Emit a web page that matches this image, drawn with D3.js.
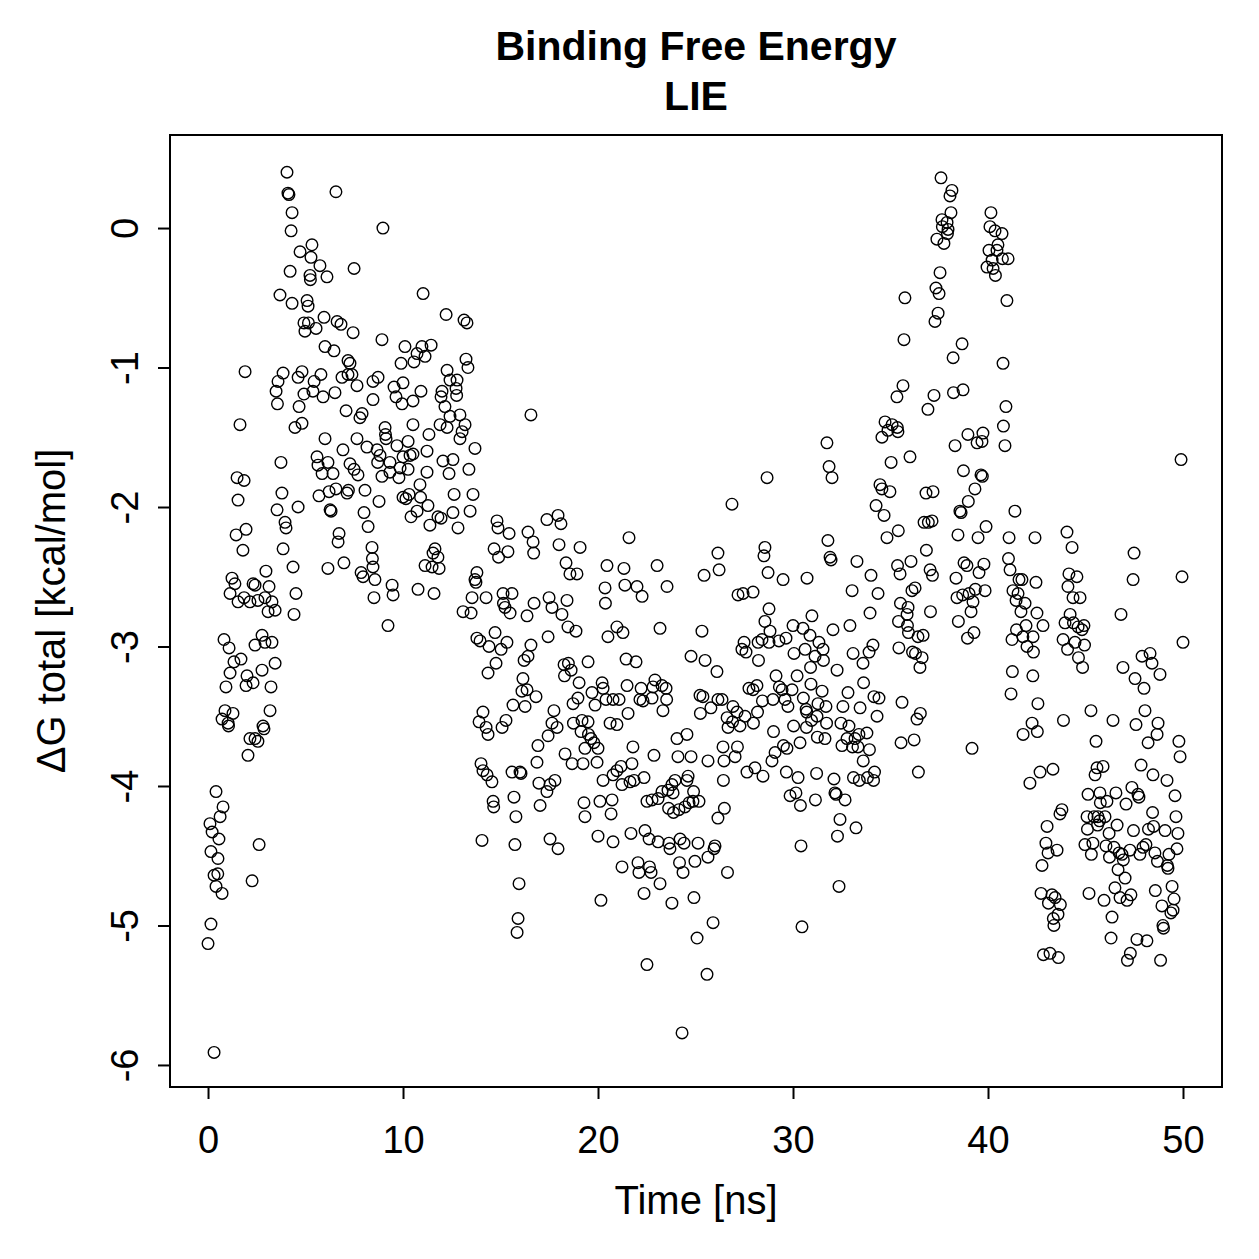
<!DOCTYPE html>
<html><head><meta charset="utf-8">
<script src="https://cdn.jsdelivr.net/npm/d3@7"></script>
<style>body{margin:0;background:#fff}</style></head><body>
<script>
const titleLines = ["Binding Free Energy", "LIE"];
const xLabel = "Time [ns]";
const yLabel = "ΔG total [kcal/mol]";
const xTicks = [0, 10, 20, 30, 40, 50];
const yTicks = [0, -1, -2, -3, -4, -5, -6];

// [time (ns), dG (kcal/mol)]
const ptsA = [
[0.82,-2.95],[1.08,-3.01],[1.33,-3.11],[1.69,-3.09],[1.13,-3.19],[0.92,-3.29],[2.00,-3.21],[2.31,-3.26],[1.95,-3.28],
[2.77,-2.92],[2.41,-2.99],[2.92,-2.97],[3.28,-2.97],[3.44,-3.12],[2.77,-3.17],[3.23,-3.29],[0.87,-3.46],[1.28,-3.48],
[0.72,-3.52],[1.03,-3.55],[1.05,-3.57],[3.18,-3.46],[2.82,-3.57],[2.87,-3.59],[2.15,-3.66],[2.41,-3.66],[2.56,-3.68],
[2.05,-3.78],[0.41,-4.04],[0.77,-4.15],[0.62,-4.22],[0.10,-4.27],[0.21,-4.33],[0.56,-4.38],[0.15,-4.47],[0.51,-4.52],
[2.62,-4.42],[0.31,-4.64],[0.50,-4.63],[0.41,-4.72],[0.72,-4.77],[2.26,-4.68],[0.15,-4.99],[0.00,-5.13],[0.31,-5.91],
[4.05,0.40],[4.10,0.25],[4.15,0.24],[6.56,0.26],[4.31,0.11],[4.26,-0.02],[5.33,-0.12],[4.72,-0.17],[5.28,-0.21],
[5.74,-0.27],[4.21,-0.31],[5.23,-0.34],[5.25,-0.37],[6.10,-0.35],[7.49,-0.29],[3.69,-0.48],[4.31,-0.54],[5.08,-0.52],
[5.13,-0.56],[5.95,-0.64],[4.92,-0.68],[5.15,-0.68],[4.97,-0.74],[5.54,-0.72],[6.62,-0.67],[6.82,-0.69],[7.44,-0.75],
[6.00,-0.85],[6.46,-0.88],[7.18,-0.95],[7.28,-0.97],[1.90,-1.03],[3.85,-1.04],[3.59,-1.10],[3.49,-1.17],[3.56,-1.26],
[4.62,-1.07],[4.82,-1.03],[5.79,-1.05],[5.44,-1.10],[4.92,-1.19],[5.38,-1.17],[5.90,-1.21],[6.51,-1.18],[6.87,-1.07],
[7.18,-1.05],[7.38,-1.05],[7.64,-1.13],[7.08,-1.31],[7.90,-1.33],[7.79,-1.36],[4.67,-1.28],[4.46,-1.43],[4.82,-1.40],
[1.64,-1.41],[6.00,-1.51],[6.92,-1.59],[7.64,-1.51],[8.15,-1.57],[5.59,-1.64],[5.64,-1.70],[5.85,-1.76],[6.15,-1.68],
[6.41,-1.76],[7.28,-1.69],[7.49,-1.73],[7.69,-1.77],[3.74,-1.68],[1.49,-1.79],[1.85,-1.81],[1.54,-1.95],[3.79,-1.90],
[3.54,-2.02],[4.62,-2.00],[5.69,-1.92],[6.21,-1.89],[6.56,-1.87],[7.13,-1.90],[7.20,-1.88],[8.05,-1.88],[6.26,-2.02],
[6.31,-2.03],[8.00,-2.04],[3.95,-2.11],[4.00,-2.15],[1.95,-2.16],[1.44,-2.20],[1.79,-2.31],[3.85,-2.30],[6.72,-2.19],
[6.67,-2.25],[8.21,-2.14],[4.36,-2.43],[6.15,-2.44],[6.97,-2.40],[7.85,-2.47],[7.95,-2.50],[1.23,-2.51],[1.38,-2.55],
[1.13,-2.62],[1.54,-2.68],[2.31,-2.55],[2.41,-2.56],[2.97,-2.46],[3.13,-2.57],[1.85,-2.65],[2.15,-2.68],[2.56,-2.67],
[2.92,-2.65],[3.28,-2.68],[3.08,-2.75],[3.44,-2.74],[4.51,-2.62],[4.41,-2.77]
];
const ptsB = [
[8.97,0.00],[11.03,-0.47],[12.21,-0.62],[13.13,-0.66],[13.28,-0.68],[8.92,-0.80],[10.10,-0.85],[10.97,-0.85],[11.44,-0.84],
[10.72,-0.90],[11.13,-0.92],[9.90,-0.97],[10.56,-0.96],[13.23,-0.94],[13.33,-1.00],[8.72,-1.07],[8.46,-1.10],[12.26,-1.02],
[12.41,-1.09],[12.77,-1.09],[9.54,-1.14],[10.00,-1.11],[10.92,-1.17],[8.46,-1.23],[9.64,-1.21],[9.95,-1.26],[10.51,-1.24],
[12.00,-1.17],[11.95,-1.21],[12.72,-1.15],[12.75,-1.20],[12.15,-1.28],[16.56,-1.34],[12.41,-1.35],[12.92,-1.34],[10.51,-1.41],
[11.90,-1.41],[12.26,-1.43],[13.18,-1.41],[13.03,-1.46],[9.08,-1.43],[9.10,-1.48],[9.13,-1.51],[11.33,-1.48],[12.92,-1.51],
[13.69,-1.58],[8.67,-1.59],[8.82,-1.63],[9.69,-1.56],[10.26,-1.53],[11.23,-1.60],[8.70,-1.68],[9.33,-1.68],[10.00,-1.64],
[10.36,-1.63],[10.51,-1.62],[10.26,-1.73],[9.85,-1.72],[9.33,-1.75],[8.92,-1.78],[9.79,-1.79],[11.23,-1.75],[12.05,-1.67],
[12.56,-1.66],[12.36,-1.76],[13.38,-1.73],[10.87,-1.84],[10.00,-1.93],[10.15,-1.94],[10.31,-1.91],[10.90,-1.93],[8.77,-1.96],
[11.28,-1.99],[10.72,-2.03],[10.41,-2.07],[11.38,-2.13],[11.79,-2.07],[11.95,-2.08],[12.62,-1.91],[13.59,-1.91],[12.56,-2.04],
[13.44,-2.03],[12.82,-2.15],[14.82,-2.10],[14.87,-2.15],[15.44,-2.19],[16.41,-2.18],[16.67,-2.25],[16.70,-2.33],[14.67,-2.30],
[14.90,-2.36],[15.38,-2.32],[11.64,-2.30],[11.54,-2.33],[11.79,-2.36],[11.13,-2.42],[11.49,-2.43],[11.85,-2.44],[8.41,-2.29],
[8.43,-2.37],[8.46,-2.43],[8.56,-2.52],[8.51,-2.65],[9.44,-2.56],[9.49,-2.63],[10.77,-2.59],[11.59,-2.62],[13.79,-2.47],
[13.69,-2.52],[13.74,-2.54],[13.54,-2.65],[14.26,-2.65],[13.08,-2.75],[13.49,-2.76],[15.13,-2.62],[15.59,-2.62],[15.15,-2.69],
[15.23,-2.72],[15.49,-2.76],[16.72,-2.69],[16.36,-2.78],
[9.23,-2.85],[13.79,-2.94],[13.95,-2.96],[14.72,-2.90],[14.41,-3.00],[15.03,-3.02],[15.33,-2.97],[14.77,-3.12],[14.36,-3.19],
[16.56,-2.99],[16.41,-3.07],[16.21,-3.10],[16.15,-3.23],[16.10,-3.32],[16.36,-3.31],[16.82,-3.36],[15.64,-3.42],[16.26,-3.43],
[14.10,-3.47],[13.90,-3.54],[14.26,-3.58],[14.36,-3.63],[15.28,-3.53],[15.08,-3.58],[16.92,-3.71],[16.87,-3.83],[14.00,-3.84],
[14.10,-3.89],[14.31,-3.92],[14.56,-3.97],[15.59,-3.90],[16.00,-3.90],[16.05,-3.91],[16.97,-3.98],[14.62,-4.11],[14.65,-4.15],
[15.69,-4.08],[15.79,-4.22],[17.03,-4.14],[14.05,-4.39],[15.74,-4.42],[15.95,-4.70],[15.90,-4.95],[15.85,-5.05]
];
const ptsC = [
[17.95,-2.06],[18.10,-2.12],[17.38,-2.09],[21.59,-2.22],[18.00,-2.27],[19.08,-2.29],[18.36,-2.40],[18.56,-2.48],[18.92,-2.48],
[20.46,-2.42],[21.33,-2.44],[23.03,-2.42],[26.15,-2.33],[26.21,-2.45],[25.44,-2.49],[20.36,-2.58],[21.38,-2.56],[22.00,-2.57],
[22.26,-2.64],[23.54,-2.57],[20.38,-2.69],[17.49,-2.65],[18.41,-2.67],[17.64,-2.72],[18.15,-2.77],
[17.44,-2.93],[18.46,-2.86],[18.87,-2.89],[20.51,-2.93],[20.97,-2.86],[21.28,-2.90],[23.18,-2.87],[25.33,-2.89],[19.49,-3.11],
[18.26,-3.13],[18.48,-3.12],[18.62,-3.17],[18.28,-3.21],[21.44,-3.09],[21.95,-3.11],[24.77,-3.07],[25.49,-3.10],[26.10,-3.18],
[19.03,-3.26],[20.21,-3.26],[20.26,-3.30],[19.69,-3.33],[18.97,-3.37],[18.72,-3.41],[19.85,-3.42],[20.41,-3.38],[20.77,-3.38],
[21.08,-3.38],[21.49,-3.28],[22.21,-3.30],[22.82,-3.29],[22.92,-3.24],[23.28,-3.28],[23.49,-3.30],[22.15,-3.38],[22.31,-3.39],
[22.77,-3.37],[23.52,-3.38],[23.33,-3.46],[25.23,-3.35],[25.38,-3.36],[25.79,-3.44],[26.15,-3.38],[25.25,-3.48],[17.74,-3.46],
[18.74,-3.55],[19.18,-3.53],[19.49,-3.54],[19.13,-3.61],[19.51,-3.63],[20.62,-3.55],[20.97,-3.56],[21.54,-3.48],[17.64,-3.55],
[17.90,-3.58],[17.44,-3.64],[19.64,-3.66],[19.79,-3.69],[19.33,-3.73],[20.00,-3.73],[18.31,-3.77],[18.67,-3.84],[19.23,-3.84],
[19.95,-3.83],[21.79,-3.72],[21.74,-3.84],[22.87,-3.78],[24.05,-3.66],[24.56,-3.63],[24.10,-3.79],[24.77,-3.79],[25.64,-3.82],
[20.26,-3.96],[20.77,-3.92],[20.97,-3.89],[21.18,-3.86],[21.23,-3.99],[21.64,-3.97],[21.85,-3.96],[22.36,-3.94],[17.79,-3.96],
[17.54,-3.99],[17.38,-4.04],[19.28,-4.12],[19.33,-4.22],[20.10,-4.11],[20.72,-4.10],[20.67,-4.20],[22.51,-4.11],[22.77,-4.10],
[23.08,-4.09],[23.28,-4.04],[23.59,-4.03],[23.85,-4.05],[23.62,-4.16],[23.87,-4.19],[24.15,-4.17],[24.46,-4.15],[24.67,-4.12],
[24.87,-4.11],[25.18,-4.11],[23.79,-3.99],[23.95,-3.96],[24.56,-3.96],[24.62,-3.93],[24.90,-4.04],[26.15,-4.23],[17.54,-4.38],
[17.95,-4.45],[20.00,-4.36],[20.77,-4.40],[21.69,-4.34],[22.41,-4.32],[22.62,-4.38],[23.08,-4.40],[23.64,-4.41],[23.69,-4.45],
[24.21,-4.38],[24.41,-4.41],[25.13,-4.41],[26.00,-4.43],[25.95,-4.45],[25.64,-4.51],[24.97,-4.54],[21.23,-4.58],[22.05,-4.55],
[22.10,-4.62],[22.64,-4.58],[22.72,-4.62],[23.18,-4.70],[24.18,-4.55],[24.36,-4.62],[22.36,-4.77],[23.79,-4.84],[24.92,-4.80],
[20.15,-4.82],[25.90,-4.98],[25.08,-5.09],[22.51,-5.28],[25.59,-5.35],[24.31,-5.77]
];
const ptsD = [
[34.72,-1.39],[35.08,-1.41],[34.87,-1.45],[34.56,-1.50],[31.74,-1.54],[31.85,-1.71],[32.00,-1.79],[35.03,-1.68],[34.46,-1.84],
[34.56,-1.87],[34.97,-1.89],[34.26,-1.99],[34.67,-2.06],[28.67,-1.79],[26.87,-1.98],[34.82,-2.22],[31.79,-2.24],[31.90,-2.36],
[31.95,-2.38],[33.28,-2.39],[34.00,-2.49],[34.36,-2.62],[33.03,-2.60],[28.56,-2.29],[28.51,-2.35],[28.72,-2.47],[29.49,-2.52],
[30.72,-2.51],[27.18,-2.63],[27.44,-2.62],[27.95,-2.61],[28.77,-2.73],[30.97,-2.78],[33.95,-2.76],
[28.56,-2.82],[28.82,-2.89],[30.00,-2.85],[30.51,-2.87],[30.87,-2.92],[32.05,-2.88],[32.92,-2.85],[27.49,-2.97],[27.38,-3.02],
[27.59,-3.04],[28.21,-2.97],[28.41,-2.95],[28.77,-2.97],[29.28,-2.96],[29.64,-2.94],[30.05,-3.05],[30.62,-3.02],[31.33,-2.97],
[31.54,-3.02],[31.13,-3.07],[31.56,-3.10],[30.90,-3.15],[28.23,-3.10],[33.08,-3.05],[33.90,-3.04],[34.10,-2.99],[33.59,-3.12],
[32.26,-3.17],[29.13,-3.21],[30.21,-3.21],[27.74,-3.30],[27.95,-3.31],[28.15,-3.28],[29.30,-3.29],[29.44,-3.31],[29.95,-3.31],
[30.92,-3.27],[31.49,-3.32],[28.43,-3.39],[28.97,-3.38],[29.59,-3.38],[29.74,-3.43],[30.53,-3.37],[30.67,-3.45],[31.28,-3.41],
[31.69,-3.43],[32.82,-3.33],[32.56,-3.43],[33.44,-3.44],[33.62,-3.26],[34.15,-3.36],[34.41,-3.37],[34.31,-3.50],[26.92,-3.43],
[27.13,-3.47],[26.62,-3.51],[26.90,-3.54],[26.67,-3.58],[27.28,-3.57],[27.97,-3.55],[27.54,-3.50],[28.18,-3.47],[30.70,-3.47],
[30.95,-3.53],[31.23,-3.50],[31.72,-3.55],[30.03,-3.57],[30.69,-3.58],[29.00,-3.61],[32.46,-3.55],[32.87,-3.57],[26.36,-3.38],
[32.77,-3.66],[32.51,-3.71],[33.05,-3.72],[33.18,-3.66],[33.38,-3.63],[33.79,-3.62],[33.92,-3.74],[33.60,-3.82],[33.33,-3.72],
[30.36,-3.69],[31.25,-3.65],[31.64,-3.66],[29.51,-3.71],[29.69,-3.73],[29.08,-3.76],[28.92,-3.82],[27.15,-3.72],[27.03,-3.79],
[26.41,-3.72],[26.46,-3.82],[27.64,-3.90],[28.05,-3.87],[28.46,-3.93],[29.66,-3.90],[30.26,-3.94],[31.21,-3.91],[32.10,-3.95],
[33.10,-3.94],[33.40,-3.96],[33.82,-3.94],[34.18,-3.90],[34.13,-3.96],[26.43,-3.96],[26.48,-4.16],[29.85,-4.07],[30.15,-4.05],
[30.38,-4.14],[31.15,-4.10],[32.15,-4.05],[32.21,-4.06],[32.67,-4.10],[32.41,-4.24],[32.28,-4.36],[33.23,-4.30],[30.41,-4.43],
[26.64,-4.62],[32.36,-4.72],[30.46,-5.01]
];
const ptsE = [
[37.59,0.36],[38.15,0.27],[38.05,0.23],[38.10,0.11],[37.64,0.06],[37.90,0.04],[37.66,0.01],[37.95,-0.01],[37.92,-0.04],
[37.38,-0.08],[37.74,-0.11],[40.15,0.11],[40.10,0.01],[40.36,-0.02],[40.72,-0.04],[40.51,-0.12],[40.05,-0.16],[40.21,-0.23],
[40.74,-0.22],[41.03,-0.22],[39.95,-0.28],[40.26,-0.29],[40.38,-0.34],[40.46,-0.16],[37.54,-0.32],[37.33,-0.43],[37.49,-0.47],
[37.44,-0.61],[37.28,-0.67],[35.74,-0.50],[40.97,-0.52],[35.69,-0.80],[38.67,-0.83],[38.21,-0.93],[40.77,-0.97],[35.64,-1.13],
[35.33,-1.21],[37.23,-1.20],[36.92,-1.30],[38.23,-1.18],[38.72,-1.16],[40.92,-1.28],[40.79,-1.42],[40.87,-1.56],[38.97,-1.48],
[39.74,-1.47],[39.44,-1.54],[39.69,-1.53],[38.31,-1.56],[35.35,-1.43],[35.38,-1.46],[36.00,-1.64],[38.74,-1.74],[39.64,-1.77],
[39.71,-1.78],[39.33,-1.87],[36.82,-1.90],[37.18,-1.89],[38.99,-1.96],[38.56,-2.03],[38.62,-2.04],[41.38,-2.03],[36.72,-2.11],
[36.94,-2.11],[37.13,-2.10],[35.40,-2.17],[38.46,-2.20],[39.49,-2.22],[39.90,-2.14],[41.08,-2.22],[36.84,-2.31],[36.05,-2.39],
[35.36,-2.42],[35.49,-2.48],[37.03,-2.45],[37.15,-2.49],[38.77,-2.40],[38.92,-2.42],[39.79,-2.41],[39.54,-2.47],[41.05,-2.37],
[41.13,-2.45],[41.59,-2.52],[38.36,-2.51],[36.26,-2.58],[36.10,-2.60],[38.41,-2.65],[38.70,-2.63],[39.03,-2.62],[39.35,-2.59],
[39.85,-2.60],[39.23,-2.68],[39.13,-2.75],[41.28,-2.60],[41.54,-2.62],[41.44,-2.67],[37.05,-2.75],[35.90,-2.72],[35.51,-2.69],
[35.85,-2.77],[41.69,-2.75],
[35.41,-2.82],[35.87,-2.85],[35.92,-2.90],[36.41,-2.93],[36.67,-2.92],[35.43,-3.01],[36.13,-3.04],[36.28,-3.05],[36.62,-3.08],
[36.51,-3.15],[38.48,-2.82],[39.28,-2.90],[38.95,-2.94],[41.46,-2.88],[41.23,-2.95],[41.25,-3.18],[35.59,-3.40],[36.36,-3.52],
[36.53,-3.48],[41.18,-3.34],[35.54,-3.69],[36.21,-3.67],[39.18,-3.73],[36.43,-3.90]
];
const ptsF = [
[49.90,-1.66],[42.41,-2.22],[44.05,-2.18],[44.31,-2.29],[47.49,-2.33],[41.74,-2.52],[42.46,-2.54],[44.15,-2.48],[44.56,-2.50],
[44.10,-2.57],[44.36,-2.65],[44.72,-2.65],[47.44,-2.52],[49.95,-2.50],[41.90,-2.69],[42.51,-2.76],[44.21,-2.77],[46.82,-2.77],
[41.95,-2.85],[42.82,-2.85],[43.95,-2.83],[44.38,-2.83],[44.62,-2.86],[44.92,-2.85],[44.82,-2.88],[41.79,-2.93],[42.31,-2.93],
[42.00,-3.00],[42.33,-3.04],[43.85,-2.95],[44.08,-3.02],[44.46,-2.97],[44.95,-2.99],[44.64,-3.08],[44.85,-3.15],[50.00,-2.97],
[47.90,-3.07],[48.31,-3.05],[48.41,-3.12],[48.82,-3.20],[46.92,-3.15],[47.54,-3.23],[48.00,-3.30],[42.30,-3.21],[42.56,-3.41],
[42.26,-3.55],[41.80,-3.63],[42.53,-3.61],[43.87,-3.53],[45.28,-3.46],[46.41,-3.53],[47.59,-3.56],[48.05,-3.46],[48.72,-3.55],
[48.67,-3.63],[48.21,-3.69],[45.54,-3.68],[49.79,-3.68],[49.85,-3.79],[42.67,-3.90],[43.33,-3.88],[42.15,-3.98],[45.49,-3.92],
[45.59,-3.87],[45.90,-3.86],[47.85,-3.85],[48.46,-3.92],[49.18,-3.96],[45.13,-4.06],[45.74,-4.05],[46.56,-4.05],[47.38,-4.01],
[47.69,-4.06],[47.74,-4.08],[47.08,-4.13],[49.59,-4.07],[45.76,-4.12],[46.10,-4.11],[43.79,-4.17],[43.69,-4.20],[43.03,-4.29],
[45.08,-4.22],[45.44,-4.22],[45.64,-4.22],[45.72,-4.25],[46.00,-4.22],[45.10,-4.31],[45.62,-4.28],[46.21,-4.34],[46.62,-4.28],
[47.46,-4.32],[48.44,-4.19],[48.23,-4.31],[48.49,-4.29],[49.08,-4.32],[49.64,-4.22],[49.74,-4.34],[42.97,-4.41],[43.54,-4.46],
[43.08,-4.48],[42.77,-4.57],[44.97,-4.42],[45.30,-4.49],[45.38,-4.41],[46.05,-4.43],[46.23,-4.51],[46.46,-4.44],[46.72,-4.48],
[46.87,-4.49],[46.94,-4.53],[47.28,-4.46],[47.79,-4.49],[47.95,-4.44],[48.10,-4.42],[48.56,-4.48],[48.69,-4.54],[49.20,-4.57],
[49.28,-4.49],[49.23,-4.59],[49.69,-4.45],[46.67,-4.60],[47.03,-4.66],[42.72,-4.77],[43.28,-4.78],[43.44,-4.80],[43.71,-4.85],
[43.10,-4.84],[43.59,-4.92],[43.35,-4.95],[43.38,-5.00],[45.18,-4.77],[45.95,-4.82],[46.51,-4.73],[46.77,-4.80],[47.13,-4.82],
[47.33,-4.78],[48.58,-4.75],[49.44,-4.72],[49.54,-4.81],[48.92,-4.86],[49.49,-4.89],[49.38,-4.91],[46.36,-4.94],[48.97,-5.00],
[49.00,-5.02],[46.31,-5.09],[47.64,-5.10],[48.15,-5.11],[42.84,-5.21],[43.18,-5.20],[43.61,-5.23],[47.30,-5.20],[47.15,-5.25],
[48.85,-5.25]
];

const data = [].concat(ptsA, ptsB, ptsC, ptsD, ptsE, ptsF);

const W = 1259, H = 1259;
const box = {l: 170, r: 1222, t: 135, b: 1087};
const font = "'Liberation Sans', Arial, Helvetica, sans-serif";
const tickFont = 38, labelFont = 40, titleFont = 41;

const x = d3.scaleLinear().domain([-1.95, 52.0]).range([box.l, box.r]);
const y = d3.scaleLinear().domain([-6.158, 0.667]).range([box.b, box.t]);

const svg = d3.select("body").append("svg")
  .attr("width", W).attr("height", H)
  .style("font-family", font);

svg.append("rect").attr("width", W).attr("height", H).attr("fill", "#fff");

// points
svg.append("g").selectAll("circle").data(data).join("circle")
  .attr("cx", d => x(d[0])).attr("cy", d => y(d[1]))
  .attr("r", 5.8).attr("fill", "none").attr("stroke", "#000").attr("stroke-width", 1.4);

// box
svg.append("rect").attr("x", box.l).attr("y", box.t)
  .attr("width", box.r - box.l).attr("height", box.b - box.t)
  .attr("fill", "none").attr("stroke", "#000").attr("stroke-width", 2);

// x axis
const gx = svg.append("g").attr("transform", `translate(0,${box.b})`)
  .call(d3.axisBottom(x).tickValues(xTicks).tickFormat(d3.format("d")).tickSize(12).tickPadding(27));
gx.select(".domain").remove();
gx.selectAll("line").attr("stroke", "#000").attr("stroke-width", 2);
gx.selectAll("text").attr("font-size", tickFont).attr("font-family", font).attr("fill", "#000");

// y axis
const gy = svg.append("g").attr("transform", `translate(${box.l},0)`)
  .call(d3.axisLeft(y).tickValues(yTicks).tickFormat(d => d3.format("d")(d).replace("−", "-")).tickSize(12).tickPadding(12));
gy.select(".domain").remove();
gy.selectAll("line").attr("stroke", "#000").attr("stroke-width", 2);
gy.selectAll("text")
  .attr("font-size", tickFont).attr("font-family", font).attr("fill", "#000")
  .attr("text-anchor", "middle").attr("x", null).attr("dy", null)
  .attr("transform", "translate(-20,0) rotate(-90)")
  .attr("y", -12);

// axis line segments (R style, from first to last tick)
svg.append("line").attr("x1", x(0)).attr("x2", x(50)).attr("y1", box.b).attr("y2", box.b)
  .attr("stroke", "#000").attr("stroke-width", 2);
svg.append("line").attr("x1", box.l).attr("x2", box.l).attr("y1", y(0)).attr("y2", y(-6))
  .attr("stroke", "#000").attr("stroke-width", 2);

// labels
svg.append("text").attr("x", (box.l + box.r) / 2).attr("y", 1214)
  .attr("text-anchor", "middle").attr("font-size", labelFont).text(xLabel);
svg.append("text").attr("transform", `translate(65,${(box.t + box.b) / 2}) rotate(-90)`)
  .attr("text-anchor", "middle").attr("font-size", labelFont).text(yLabel);

svg.selectAll(".title").data(titleLines).join("text")
  .attr("class", "title")
  .attr("x", (box.l + box.r) / 2).attr("y", (d, i) => 60 + i * 50)
  .attr("text-anchor", "middle").attr("font-size", titleFont).attr("font-weight", "bold")
  .text(d => d);
</script>
</body></html>
